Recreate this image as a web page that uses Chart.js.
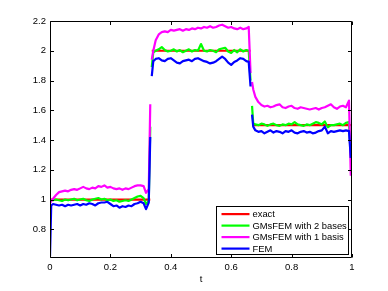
<!DOCTYPE html>
<html>
<head>
<meta charset="utf-8">
<script src="https://cdn.jsdelivr.net/npm/chart.js@4.4.0/dist/chart.umd.min.js"></script>
<style>
html,body{margin:0;padding:0;background:#fff;}
canvas{display:block;}
</style>
</head>
<body>
<canvas id="c" width="388" height="291"></canvas>
<script>
// ---- data ----
const t = [0,0.004,0.01,0.02,0.03,0.04,0.05,0.06,0.07,0.08,0.09,0.10,0.11,0.12,0.13,0.14,0.15,0.16,0.17,0.18,0.19,0.20,0.21,0.22,0.23,0.24,0.25,0.26,0.27,0.28,0.29,0.30,0.31,0.318,0.327,0.332,
  0.3345,
  0.337,0.342,0.35,0.36,0.37,0.38,0.39,0.40,0.41,0.42,0.43,0.44,0.45,0.46,0.47,0.48,0.49,0.50,0.51,0.52,0.53,0.54,0.55,0.56,0.57,0.58,0.59,0.60,0.61,0.62,0.63,0.64,0.65,0.658,0.664,
  0.6665,
  0.669,0.673,0.68,0.69,0.70,0.71,0.72,0.73,0.74,0.75,0.76,0.77,0.78,0.79,0.80,0.81,0.82,0.83,0.84,0.85,0.86,0.87,0.88,0.89,0.90,0.91,0.92,0.93,0.94,0.95,0.96,0.97,0.98,0.99,0.996];

const exactT = [0,0.332,0.3345,0.337,0.664,0.6665,0.669,1];
const exactV = [1,1,null,2,2,null,1.5,1.5];

const gms2 = [0.99,0.995,0.995,1.0,0.995,0.99,1.0,0.995,1.0,1.005,0.995,1.0,1.005,0.995,0.99,1.0,1.005,1.01,1.0,1.005,0.995,1.0,0.99,0.995,0.985,0.99,0.995,0.99,1.0,1.01,1.02,1.025,1.01,0.97,0.99,1.49,
  null,
  1.89,1.99,2.0,2.01,2.025,2.005,1.995,2.0,2.01,1.995,2.005,1.99,2.0,2.01,1.995,2.005,2.0,2.045,2.0,1.995,2.005,2.0,1.99,2.01,2.015,2.02,1.995,1.985,2.005,1.99,2.01,1.995,2.005,2.0,1.8,
  null,
  1.63,1.51,1.505,1.5,1.51,1.505,1.495,1.505,1.51,1.5,1.495,1.505,1.5,1.51,1.505,1.52,1.505,1.5,1.495,1.505,1.5,1.51,1.52,1.515,1.505,1.525,1.485,1.5,1.5,1.505,1.51,1.5,1.515,1.52,1.28];

const gms1 = [0.975,0.99,1.005,1.03,1.05,1.055,1.06,1.055,1.065,1.07,1.065,1.075,1.085,1.075,1.07,1.08,1.075,1.09,1.085,1.095,1.08,1.085,1.075,1.07,1.075,1.065,1.075,1.07,1.08,1.09,1.095,1.095,1.09,1.045,1.07,1.64,
  null,
  1.94,2.0,2.07,2.11,2.125,2.13,2.125,2.14,2.135,2.14,2.145,2.135,2.145,2.14,2.15,2.145,2.155,2.15,2.16,2.155,2.165,2.155,2.16,2.17,2.175,2.165,2.155,2.16,2.15,2.145,2.155,2.145,2.15,2.16,1.85,
  null,
  1.79,1.74,1.69,1.655,1.635,1.625,1.63,1.62,1.625,1.635,1.64,1.62,1.615,1.625,1.63,1.615,1.61,1.62,1.615,1.61,1.605,1.61,1.615,1.605,1.615,1.62,1.63,1.64,1.62,1.61,1.625,1.63,1.62,1.665,1.16];

const fem = [0.62,0.96,0.97,0.965,0.96,0.965,0.955,0.965,0.96,0.965,0.97,0.96,0.97,0.965,0.975,0.97,0.96,0.975,0.98,0.98,0.985,0.97,0.955,0.96,0.945,0.955,0.95,0.96,0.955,0.97,0.975,0.985,0.975,0.935,0.98,1.42,
  null,
  1.83,1.93,1.945,1.95,1.935,1.93,1.945,1.95,1.935,1.92,1.915,1.93,1.935,1.94,1.93,1.945,1.95,1.94,1.93,1.925,1.915,1.92,1.93,1.945,1.96,1.945,1.92,1.905,1.925,1.935,1.95,1.945,1.93,1.925,1.76,
  null,
  1.57,1.49,1.465,1.455,1.46,1.445,1.455,1.465,1.45,1.46,1.455,1.445,1.46,1.455,1.465,1.45,1.445,1.455,1.46,1.45,1.455,1.445,1.45,1.46,1.465,1.49,1.445,1.46,1.455,1.46,1.465,1.46,1.465,1.46,1.28];

const seriesNames = ['exact','GMsFEM with 2 bases','GMsFEM with 1 basis','FEM'];
const seriesColors = ['#ff0000','#00ff00','#ff00ff','#0000ff'];
const xTicks = [0,0.2,0.4,0.6,0.8,1];
const xTickLabels = ['0','0.2','0.4','0.6','0.8','1'];
const yTicks = [0.8,1,1.2,1.4,1.6,1.8,2,2.2];
const yTickLabels = ['0.8','1','1.2','1.4','1.6','1.8','2','2.2'];
const xTitle = 't';

// ---- build ----
const pts = (xs, ys) => xs.map((x,i)=>({x:x, y:ys[i]}));
const FONT = "'Liberation Sans', Arial, Helvetica, sans-serif";

const datasets = [
  {label:seriesNames[0], data:pts(exactT, exactV)},
  {label:seriesNames[1], data:pts(t, gms2)},
  {label:seriesNames[2], data:pts(t, gms1)},
  {label:seriesNames[3], data:pts(t, fem)}
].map((d,i)=>Object.assign(d,{
  borderColor:seriesColors[i], backgroundColor:seriesColors[i],
  borderWidth:2.2, pointRadius:0, tension:0, spanGaps:false, fill:false,
  borderJoinStyle:'round', borderCapStyle:'butt', order: 4-i
}));

const framePlugin = {
  id:'frame',
  afterDatasetsDraw(chart){
    const ctx = chart.ctx, a = chart.chartArea;
    const xs = chart.scales.x, ys = chart.scales.y;
    ctx.save();
    ctx.strokeStyle = '#000';
    ctx.lineWidth = 1;
    ctx.beginPath();
    const L = Math.round(a.left)+0.5, R = Math.round(a.right)-0.5, T = Math.round(a.top)+0.5, B = Math.round(a.bottom)-0.5;
    ctx.rect(L, T, R-L, B-T);
    const tl = 3.5;
    xTicks.forEach(v=>{
      const px = Math.round(xs.getPixelForValue(v))+0.5;
      ctx.moveTo(px, B); ctx.lineTo(px, B-tl);
      ctx.moveTo(px, T); ctx.lineTo(px, T+tl);
    });
    yTicks.forEach(v=>{
      const py = Math.round(ys.getPixelForValue(v))+0.5;
      ctx.moveTo(L, py); ctx.lineTo(L+tl, py);
      ctx.moveTo(R, py); ctx.lineTo(R-tl, py);
    });
    ctx.stroke();
    ctx.restore();
  }
};

const legendPlugin = {
  id:'boxLegend',
  afterDraw(chart){
    const ctx = chart.ctx, a = chart.chartArea;
    const w = 132, h = 48;
    const bx = Math.round(a.right - 4.5 - w)+0.5, by = Math.round(a.bottom - 4 - h)+0.5;
    ctx.save();
    ctx.fillStyle = '#fff';
    ctx.fillRect(bx, by, w, h);
    ctx.strokeStyle = '#000'; ctx.lineWidth = 1;
    ctx.strokeRect(bx, by, w, h);
    ctx.font = '9.4px ' + FONT;
    ctx.textBaseline = 'middle';
    ctx.textAlign = 'left';
    chart.data.datasets.forEach((d,i)=>{
      const y = by + 7.6 + i*11.5;
      ctx.strokeStyle = d.borderColor; ctx.lineWidth = 2.2;
      ctx.beginPath(); ctx.moveTo(bx+5, y); ctx.lineTo(bx+33, y); ctx.stroke();
      ctx.fillStyle = '#000';
      ctx.fillText(d.label, bx+36, y+0.5);
    });
    ctx.restore();
  }
};

new Chart(document.getElementById('c'), {
  type:'line',
  data:{datasets:datasets},
  options:{
    responsive:false, animation:false, devicePixelRatio:1,
    layout:{padding:{top:21, right:36, left:0, bottom:0}},
    plugins:{legend:{display:false}, tooltip:{enabled:false}},
    scales:{
      x:{
        type:'linear', min:0, max:1,
        grid:{display:false, drawTicks:false},
        border:{display:false},
        afterBuildTicks(s){ s.ticks = xTicks.map(v=>({value:v})); },
        afterFit(s){ s.height = 33; },
        ticks:{padding:4, color:'#000', font:{family:FONT, size:9.5}, maxRotation:0, autoSkip:false,
          callback:(v,i)=>xTickLabels[i]},
        title:{display:true, text:xTitle, color:'#000', font:{family:FONT, size:9.5}, padding:{top:0,bottom:6}}
      },
      y:{
        type:'linear', min:0.607, max:2.2,
        grid:{display:false, drawTicks:false},
        border:{display:false},
        afterBuildTicks(s){ s.ticks = yTicks.map(v=>({value:v})); },
        afterFit(s){ s.width = 50; },
        ticks:{padding:4, color:'#000', font:{family:FONT, size:9.5}, autoSkip:false,
          callback:(v,i)=>yTickLabels[i]}
      }
    }
  },
  plugins:[framePlugin, legendPlugin]
});
</script>
</body>
</html>
